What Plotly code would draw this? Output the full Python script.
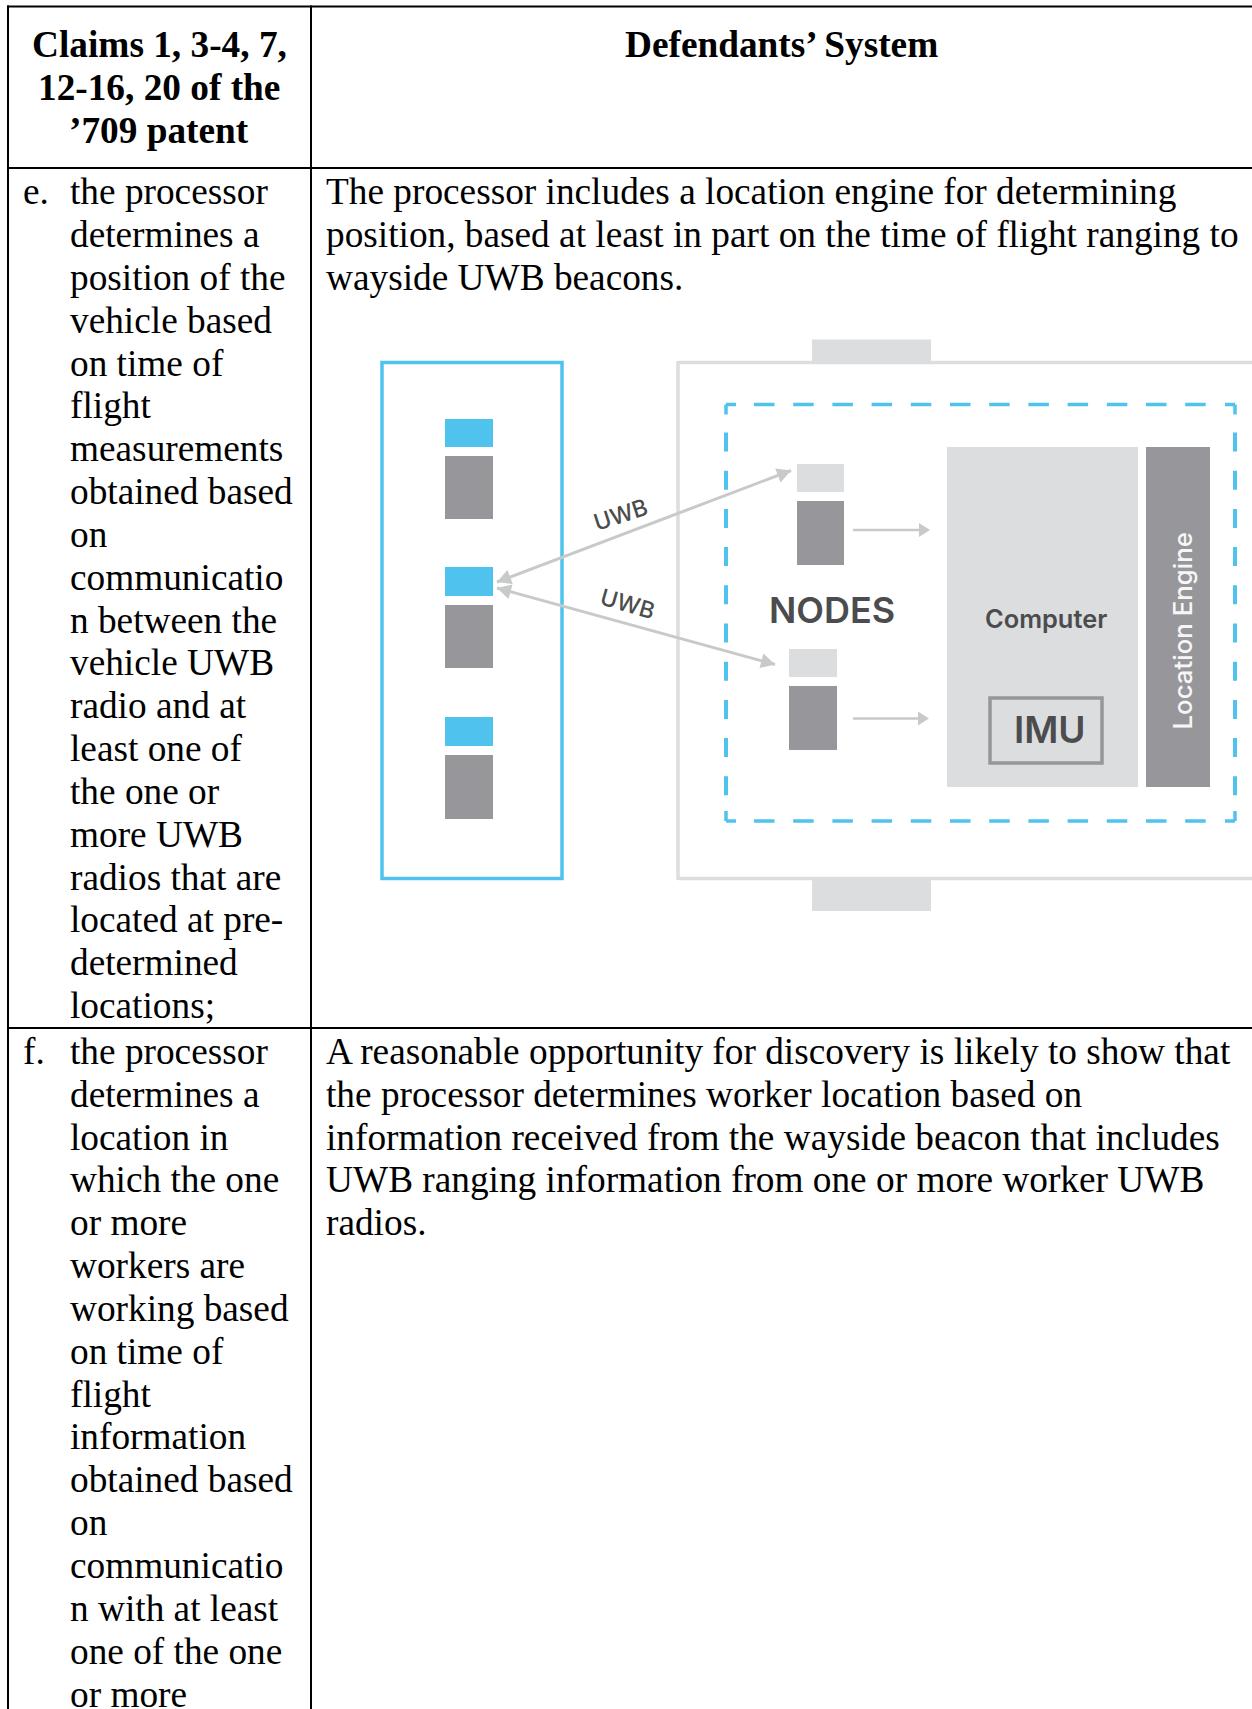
import math
import plotly.graph_objects as go

W, H = 1252, 1709
BLACK = "#000000"; BLUE = "#4fc3ee"; GREY = "#97969a"; LIGHT = "#dcddde"; ARROW = "#c8c9c9"; DARK = "#4b4c4e"
SERIF = "Liberation Serif"; SANS = "Inter"
TEXT_SIZE = 37.3; PITCH = 42.84

# ---- table text ----
header_left = ["Claims 1, 3-4, 7,", "12-16, 20 of the", "’709 patent"]
header_right = "Defendants’ System"
claim_e = ["the processor", "determines a", "position of the", "vehicle based", "on time of", "flight",
           "measurements", "obtained based", "on", "communicatio", "n between the", "vehicle UWB",
           "radio and at", "least one of", "the one or", "more UWB", "radios that are", "located at pre-",
           "determined", "locations;"]
claim_f = ["the processor", "determines a", "location in", "which the one", "or more", "workers are",
           "working based", "on time of", "flight", "information", "obtained based", "on",
           "communicatio", "n with at least", "one of the one", "or more"]
system_e = ["The processor includes a location engine for determining",
            "position, based at least in part on the time of flight ranging to",
            "wayside UWB beacons."]
system_f = ["A reasonable opportunity for discovery is likely to show that",
            "the processor determines worker location based on",
            "information received from the wayside beacon that includes",
            "UWB ranging information from one or more worker UWB",
            "radios."]

# ---- table geometry ----
table_left, table_div = 8, 311
rule_ys = [6.5, 168, 1028]
row_e_y, row_f_y = 191.7, 1051.4
header_ys = [44.7, 87.8, 130.7]

# ---- diagram geometry: (x0, y0, x1, y1) ----
vehicle_blue = [(445, 419, 493, 447), (445, 567, 493, 596), (445, 717, 493, 746)]
vehicle_grey = [(445, 456, 493, 519), (445, 605, 493, 668), (445, 755, 493, 819)]
node_light = [(797, 464, 844, 492), (789, 649, 837, 677)]
node_grey = [(797, 501, 844, 565), (789, 686, 837, 750)]
tabs = [(812, 339.5, 931, 362), (812, 878, 931, 911)]
computer = (947, 447, 1138, 787)
engine = (1146, 447, 1210, 787)
imu = (990, 698, 1102, 763)
double_arrows = [((497, 582), (791, 470.5)), ((497, 588), (775, 664.5))]
single_arrows = [((853, 530), (930, 530)), ((853, 718.5), (929, 718.5))]
dash_box = (726, 404.5, 1235, 821)

shapes = []
def rect(b, fill=None, line=None, lw=0):
    shapes.append(dict(type="rect", x0=b[0], y0=b[1], x1=b[2], y1=b[3], layer="below",
                       fillcolor=fill or "rgba(0,0,0,0)",
                       line=dict(color=line or "rgba(0,0,0,0)", width=lw)))
def seg(x0, y0, x1, y1, color, lw, dash="solid"):
    shapes.append(dict(type="line", x0=x0, y0=y0, x1=x1, y1=y1, layer="below",
                       line=dict(color=color, width=lw, dash=dash)))
def head(tip, frm, length=14, half=7.5):
    a = math.atan2(tip[1]-frm[1], tip[0]-frm[0])
    bx, by = tip[0]-length*math.cos(a), tip[1]-length*math.sin(a)
    nx, ny = -math.sin(a)*half, math.cos(a)*half
    shapes.append(dict(type="path", layer="below", fillcolor=ARROW, line=dict(width=0),
                       path=f"M{tip[0]},{tip[1]} L{bx+nx},{by+ny} L{bx-nx},{by-ny} Z"))

# vehicle box and body
seg(678, 362.5, W, 362.5, LIGHT, 3.5)
seg(678, 878.5, W, 878.5, LIGHT, 3.5)
seg(678, 361, 678, 880, LIGHT, 3.5)
for b in tabs: rect(b, LIGHT)
rect((382, 362.5, 562, 878.5), None, BLUE, 3.5)
for b in vehicle_blue: rect(b, BLUE)
for b in vehicle_grey + node_grey: rect(b, GREY)
for b in node_light: rect(b, LIGHT)
rect(computer, LIGHT); rect(engine, GREY); rect(imu, None, GREY, 3.5)

# dashed enclosure
x0, y0, x1, y1 = dash_box
seg(754, y0, 1222, y0, BLUE, 3.5, "20.5px,18.7px")
seg(754, y1, 1222, y1, BLUE, 3.5, "20.5px,18.7px")
seg(x0, 432.5, x0, 802, BLUE, 4, "19px,19.2px")
seg(x1, 432.5, x1, 802, BLUE, 4, "19px,19.2px")
for px, py, dx, dy in [(x0, y0, 10, 10), (x1, y0, -10, 10), (x0, y1, 10, -10), (x1, y1, -10, -10)]:
    seg(px, py, px+dx, py, BLUE, 3.5)
    seg(px, py, px, py+dy, BLUE, 3.5)

# arrows
for a, b in double_arrows:
    seg(a[0], a[1], b[0], b[1], ARROW, 3)
    head(a, b); head(b, a)
for a, b in single_arrows:
    seg(a[0], a[1], b[0]-8, b[1], ARROW, 2.5)
    head(b, a, 11, 7)

# table rules
for y in rule_ys:
    seg(table_left-1, y, W, y, BLACK, 2)
seg(table_left, 5.5, table_left, H, BLACK, 2)
seg(table_div, 5.5, table_div, H, BLACK, 2)

notes = []
def txt(x, y, s, size=TEXT_SIZE, family=SERIF, color=BLACK, anchor="left", angle=0, weight=None):
    font = dict(family=family, size=size, color=color)
    if weight: font["weight"] = weight
    notes.append(dict(x=x, y=y, text=s, xref="x", yref="y", showarrow=False, xanchor=anchor,
                      yanchor="middle", textangle=angle, font=font, align="left"))

for y, s in zip(header_ys, header_left):
    txt(159, y, s, anchor="center", weight=700)
txt(781.5, header_ys[0], header_right, anchor="center", weight=700)
txt(21, row_e_y, "e.")
txt(21, row_f_y, "f.")
for i, s in enumerate(claim_e): txt(68.3, row_e_y+i*PITCH, s)
for i, s in enumerate(claim_f): txt(68.3, row_f_y+i*PITCH, s)
for i, s in enumerate(system_e): txt(323.8, row_e_y+i*PITCH, s)
for i, s in enumerate(system_f): txt(323.8, row_f_y+i*PITCH, s)

txt(831.5, 610, "NODES", size=36, family=SANS, color=DARK, anchor="center", weight=600)
txt(1046, 618.5, "Computer", size=25.4, family=SANS, color=DARK, anchor="center", weight=600)
txt(1050, 729.5, "IMU", size=37, family=SANS, color=DARK, anchor="center", weight=600)
txt(1182, 631.5, "Location Engine", size=25.8, family=SANS, color="#f6f6f7", anchor="center", angle=-90, weight=500)
txt(620, 514.5, "UWB", size=23, family=SANS, color=DARK, anchor="center", angle=-18, weight=500)
txt(627.5, 604, "UWB", size=23, family=SANS, color=DARK, anchor="center", angle=16, weight=500)

fig = go.Figure()
fig.update_layout(width=W, height=H, margin=dict(l=0, r=0, t=0, b=0), autosize=False,
                  paper_bgcolor="white", plot_bgcolor="white", showlegend=False,
                  shapes=shapes, annotations=notes,
                  xaxis=dict(range=[0, W], visible=False, fixedrange=True),
                  yaxis=dict(range=[H, 0], visible=False, fixedrange=True))
fig.write_html("out.html", config=dict(displayModeBar=False),
               post_script="document.body.style.margin='0';document.documentElement.style.overflow='hidden';")
